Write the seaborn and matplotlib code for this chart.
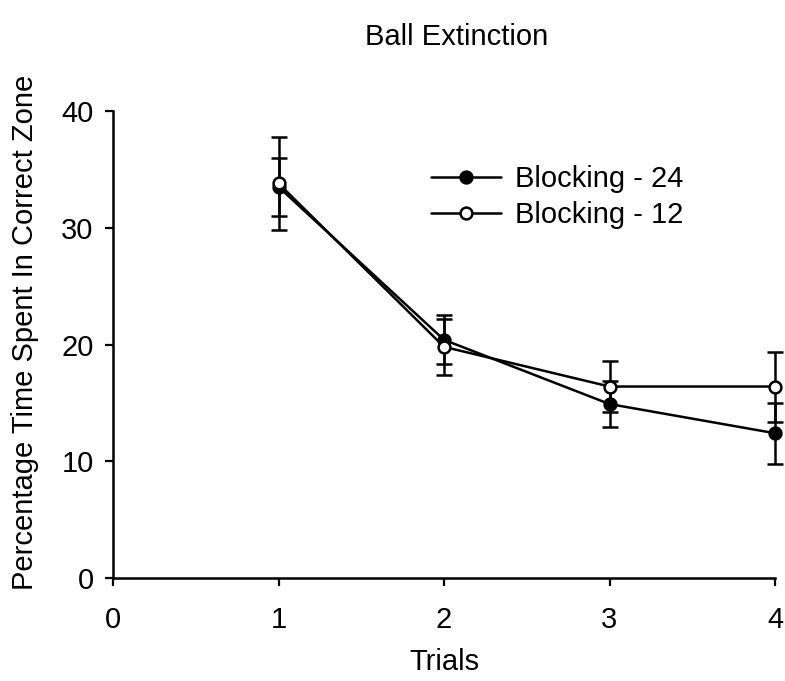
import matplotlib
matplotlib.use("Agg")
import matplotlib.pyplot as plt
import seaborn as sns
import pandas as pd

trials = [1, 2, 3, 4]
b24_mean = [33.5, 20.4, 14.9, 12.4]
b24_err = [2.5, 2.1, 2.0, 2.6]
b12_mean = [33.8, 19.8, 16.4, 16.4]
b12_err = [4.0, 2.4, 2.2, 3.0]
series_names = ["Blocking - 24", "Blocking - 12"]

sns.set_theme(style="ticks")
plt.rcParams['font.family'] = ['Liberation Sans', 'DejaVu Sans']
plt.rcParams['text.color'] = 'black'
plt.rcParams['axes.labelcolor'] = 'black'
plt.rcParams['xtick.color'] = 'black'
plt.rcParams['ytick.color'] = 'black'

df = pd.concat([
    pd.DataFrame({"Trials": trials, "val": b24_mean, "err": b24_err, "group": series_names[0]}),
    pd.DataFrame({"Trials": trials, "val": b12_mean, "err": b12_err, "group": series_names[1]}),
])

FS = 21
fig = plt.figure(figsize=(7.85, 6.81), dpi=100)
ax = fig.add_axes([113/785, 1 - 578/681, (775-113)/785, (578-111)/681])

for name, face in zip(series_names, ["black", "white"]):
    sub = df[df.group == name]
    ax.errorbar(sub.Trials, sub.val, yerr=sub.err, fmt="none", ecolor="black",
                elinewidth=1.8, capsize=5.5, capthick=1.8, zorder=2, clip_on=False)
    sns.lineplot(data=sub, x="Trials", y="val", ax=ax, color="black", lw=1.8,
                 marker="o", markersize=8.5, markerfacecolor=face,
                 markeredgecolor="black", markeredgewidth=1.8, label=name, zorder=3,
                 clip_on=False)

ax.set_xlim(0, 4)
ax.set_ylim(0, 40)
ax.set_xticks([0, 1, 2, 3, 4])
ax.set_yticks([0, 10, 20, 30, 40])
ax.tick_params(axis="both", labelsize=FS, length=6, width=1.6, direction="out")
ax.tick_params(axis="x", pad=14)
ax.tick_params(axis="y", pad=8)
for s in ["top", "right"]:
    ax.spines[s].set_visible(False)
for s in ["left", "bottom"]:
    ax.spines[s].set_linewidth(1.8)
    ax.spines[s].set_color("black")

ax.set_xlabel("Trials", fontsize=FS)
ax.xaxis.set_label_coords(0.5, (578 - 662) / 467, transform=ax.transAxes)
ax.xaxis.label.set_va("center")
ax.set_ylabel("Percentage Time Spent In Correct Zone", fontsize=FS)
ax.yaxis.set_label_coords((25 - 113) / 662, (578 - 332) / 467, transform=ax.transAxes)
ax.yaxis.label.set_va("center")
fig.text(457/785, 1 - 37/681, "Ball Extinction", fontsize=FS, ha="center", va="center")

leg = ax.legend(loc="upper left", bbox_to_anchor=(0.44, 0.94), frameon=False,
                fontsize=FS, handlelength=2.4, handletextpad=0.5, labelspacing=0.28)
for h in leg.get_lines():
    h.set_linewidth(1.8)
    h.set_markersize(8.5)
    h.set_markeredgewidth(1.8)

fig.savefig("out.png", dpi=100)
